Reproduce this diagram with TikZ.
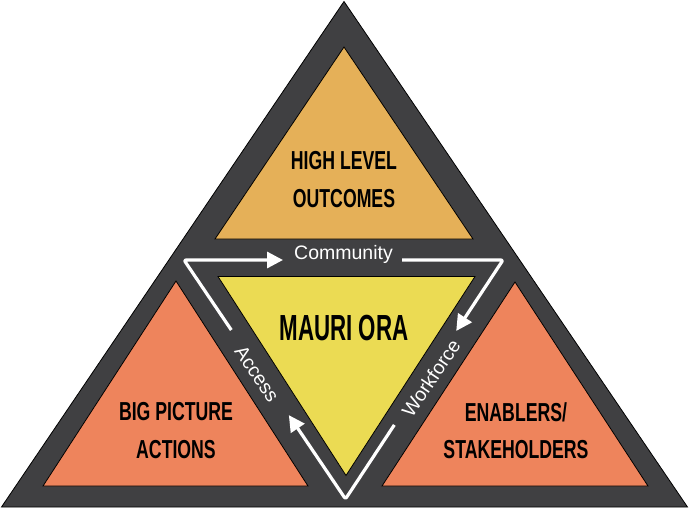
\documentclass[tikz,border=0pt]{standalone}
\usepackage{fontspec}
\setmainfont{Liberation Sans}
\newfontfamily\condfont[FakeStretch=0.68]{Liberation Sans Bold}
\newfontfamily\condfontB[FakeStretch=0.615]{Liberation Sans Bold}
\usetikzlibrary{arrows.meta,calc}
\definecolor{darkbg}{RGB}{64,64,66}
\definecolor{topor}{RGB}{229,176,88}
\definecolor{midyel}{RGB}{235,219,83}
\definecolor{sideor}{RGB}{238,132,92}
\begin{document}
\begin{tikzpicture}[x=1pt,y=-1pt,
  tri/.style={draw=black, line width=0.8pt, line join=miter},
  lbl/.style={font=\condfont\fontsize{26}{37.5}\selectfont, align=center, inner sep=0pt, text=black},
  flow/.style={draw=white, line width=3.2pt, rounded corners=2pt, line join=round,
    -{Triangle[length=16pt,width=16pt]}},
  flowlbl/.style={text=white, font=\fontsize{19.5}{22}\selectfont, inner sep=0pt}]
\path[fill=white] (0,0) rectangle (689,509);
\useasboundingbox (0,0) rectangle (689,509);
% outer
\draw[tri, fill=darkbg] (344,1.5) -- (687.5,507) -- (1.5,507) -- cycle;
% inner triangles
\draw[tri, fill=topor] (344,47) -- (473,239) -- (215,239) -- cycle;
\draw[tri, fill=midyel] (218,276.5) -- (475,276.5) -- (346,475.5) -- cycle;
\draw[tri, fill=sideor] (176,281) -- (308,486) -- (43,486) -- cycle;
\draw[tri, fill=sideor] (515,282) -- (648,486) -- (382,486) -- cycle;
% labels
\node[lbl] (hlo) at (344,179.7) {HIGH LEVEL\\OUTCOMES};
\node[lbl] (bpa) at (176,430.5) {BIG PICTURE\\ACTIONS};
\node[lbl] (ens) at (516,430.5) {ENABLERS/\\STAKEHOLDERS};
\node[font=\condfontB\fontsize{36.3}{40}\selectfont, inner sep=0pt, anchor=base] (mo) at (344,340) {MAURI ORA};
% flow path
\coordinate (L) at (184,260);
\coordinate (R) at (503,260);
\coordinate (B) at (345.5,499);
\coordinate (cl) at (283,260);
\coordinate (cr) at (402,260);
\draw[flow] ($(L)!0.293!(B)$) -- (L) -- (cl);
\draw[flow] (cr) -- (R) -- ($(R)!0.297!(B)$);
\draw[flow] ($(R)!0.69!(B)$) -- (B) -- ($(L)!0.649!(B)$);
\node[flowlbl, anchor=base] (comm) at (343.5,259) {Community};
\node[flowlbl, rotate=-56] (acc) at (257,374) {Access};
\node[flowlbl, rotate=56] (wf) at (431,378) {Workforce};
\end{tikzpicture}
\end{document}
